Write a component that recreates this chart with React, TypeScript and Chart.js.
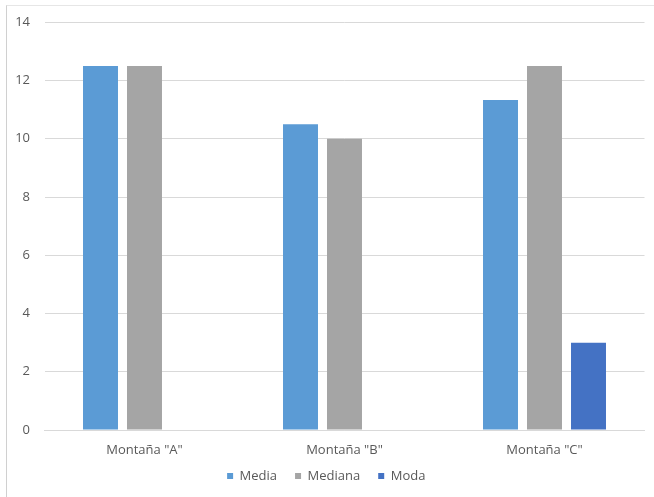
import React, { useEffect, useRef } from "react";
import { Chart, registerables } from "chart.js";

Chart.register(...registerables);

const categories = ['Montaña "A"', 'Montaña "B"', 'Montaña "C"'];
const media = [12.5, 10.5, 11.33];
const mediana = [12.5, 10, 12.5];
const moda = [null, null, 3];
const yTicks = [0, 2, 4, 6, 8, 10, 12, 14];

const FONT = "'Open Sans', 'Noto Sans', sans-serif";
const TEXT = "#595959";
const LEGEND_PAD = 18;

const legendFix = {
  id: "legendFix",
  beforeLayout(chart: any) {
    const lg = chart.legend;
    if (lg && !lg._patched) {
      const orig = lg.fit.bind(lg);
      lg.fit = () => {
        orig();
        lg.height = 35;
      };
      lg._patched = true;
    }
  },
  afterLayout(chart: any) {
    const lg = chart.legend;
    if (lg) {
      const shift = lg.top + LEGEND_PAD + 6.5 - 476;
      lg.top -= shift;
      lg.bottom -= shift;
    }
  },
};

export default function App() {
  const ref = useRef<HTMLCanvasElement>(null);
  useEffect(() => {
    if (!ref.current) return;
    const chart = new Chart(ref.current, {
      type: "bar",
      data: {
        labels: categories,
        datasets: [
          { label: "Media", data: media, backgroundColor: "#5b9bd5" },
          { label: "Mediana", data: mediana, backgroundColor: "#a5a5a5" },
          { label: "Moda", data: moda as any, backgroundColor: "#4472c4" },
        ],
      },
      options: {
        animation: false,
        responsive: false,
        maintainAspectRatio: false,
        datasets: { bar: { barPercentage: 0.795, categoryPercentage: 0.66 } },
        layout: { padding: { left: 8, top: 22, right: 9.5, bottom: 0 } },
        plugins: {
          tooltip: { enabled: false },
          legend: {
            position: "bottom",
            labels: {
              boxWidth: 6,
              boxHeight: 6,
              padding: LEGEND_PAD,
              color: TEXT,
              font: { family: FONT, size: 13 },
            },
          },
        },
        scales: {
          x: {
            grid: { display: false, drawTicks: false },
            border: { display: true, color: "#d9d9d9" },
            ticks: { color: TEXT, font: { family: FONT, size: 13 }, padding: 12 },
            afterFit: (s: any) => { s.height = 32; },
          },
          y: {
            min: 0,
            max: 14,
            afterBuildTicks: (s: any) => { s.ticks = yTicks.map((v) => ({ value: v })); },
            grid: { color: "#d9d9d9", drawTicks: false },
            border: { display: false },
            ticks: { color: TEXT, font: { family: FONT, size: 13 }, padding: 14.5 },
            afterFit: (s: any) => { s.width = 36.5; },
          },
        },
      },
      plugins: [legendFix],
    });
    return () => chart.destroy();
  }, []);
  return (
    <div style={{ position: "fixed", left: 0, top: 0, width: 654, height: 497, overflow: "hidden", background: "#fff" }}>
      <div style={{ position: "absolute", left: 6, top: 5, width: 800, height: 800, borderLeft: "1px solid #d0d0d0", borderTop: "1px solid #e6e6e6" }} />
      <canvas ref={ref} width={654} height={497} style={{ position: "absolute", left: 0, top: 0 }} />
    </div>
  );
}
